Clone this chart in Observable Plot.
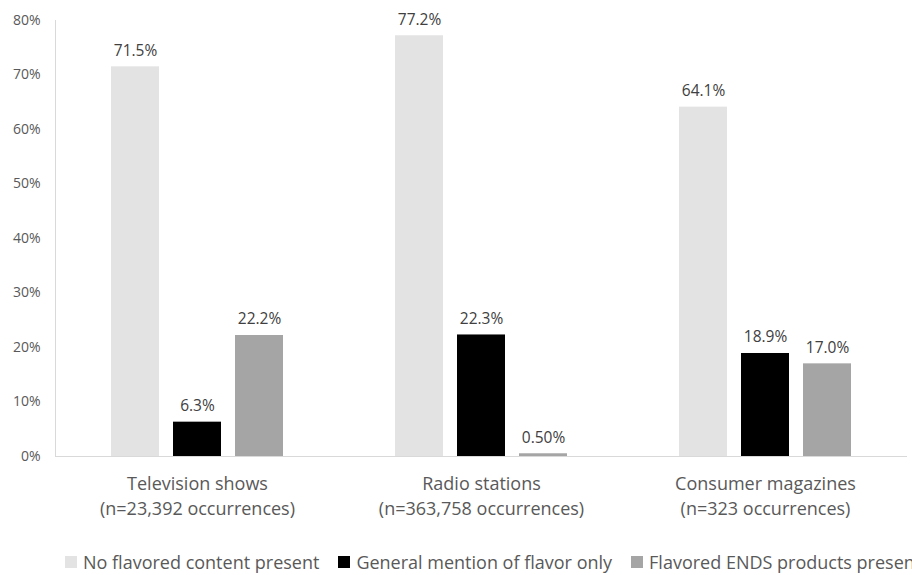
<!DOCTYPE html>
<html><head><meta charset="utf-8">
<script src="https://cdn.jsdelivr.net/npm/d3@7"></script>
<script src="https://cdn.jsdelivr.net/npm/@observablehq/plot@0.6"></script>
<style>
html,body{margin:0;padding:0;background:#fff;overflow:hidden;}
body{font-family:"Open Sans",sans-serif;width:912px;height:575px;}
#legend{height:45px;white-space:nowrap;overflow:hidden;display:flex;align-items:center;padding-left:65px;font-size:18px;color:#595959;box-sizing:border-box;padding-top:19px;}
.item{display:inline-flex;align-items:center;margin-right:19px;flex:none;}
.sw{width:12px;height:12px;margin-right:6px;display:inline-block;}
</style></head>
<body><div id="chart"></div><div id="legend"></div>
<script>
const categories = ["Television shows", "Radio stations", "Consumer magazines"];
const categoryLabels = ["Television shows\n(n=23,392 occurrences)", "Radio stations\n(n=363,758 occurrences)", "Consumer magazines\n(n=323 occurrences)"];
const series = ["No flavored content present", "General mention of flavor only", "Flavored ENDS products present"];
const noFlavor = [71.5, 77.2, 64.1];
const generalMention = [6.3, 22.3, 18.9];
const flavoredEnds = [22.2, 0.5, 17.0];
const noFlavorLabels = ["71.5%", "77.2%", "64.1%"];
const generalMentionLabels = ["6.3%", "22.3%", "18.9%"];
const flavoredEndsLabels = ["22.2%", "0.50%", "17.0%"];
const yTicks = [0, 10, 20, 30, 40, 50, 60, 70, 80];
const colors = ["#e3e3e3", "#000000", "#a5a5a5"];

const seriesValues = [noFlavor, generalMention, flavoredEnds];
const seriesLabels = [noFlavorLabels, generalMentionLabels, flavoredEndsLabels];
const data = [];
categories.forEach((c, i) => series.forEach((s, j) => data.push({category: c, series: s, value: seriesValues[j][i], label: seriesLabels[j][i]})));

const chart = Plot.plot({
  width: 912, height: 530,
  marginLeft: 54, marginRight: 5, marginTop: 20, marginBottom: 74,
  style: {fontFamily: "'Open Sans', sans-serif", background: "white", overflow: "visible"},
  fx: {domain: categories, padding: 0, label: null, axis: null},
  x: {domain: series, paddingInner: 0.222, paddingOuter: 0.867, axis: null},
  y: {domain: [0, 80], axis: null},
  color: {domain: series, range: colors},
  marks: [
    Plot.frame({anchor: "left", stroke: "#d9d9d9", fx: () => categories[0]}),
    Plot.axisY({ticks: yTicks, tickFormat: d => d + "%", tickSize: 0, tickPadding: 15, fontSize: 14, fill: "#595959", label: null}),
    Plot.axisFx({anchor: "bottom", tickFormat: d => categoryLabels[categories.indexOf(d)], tickSize: 0, tickPadding: 16, fontSize: 18, lineHeight: 1.39, fill: "#595959", label: null}),
    Plot.ruleY([0], {stroke: "#d9d9d9"}),
    Plot.barY(data, {fx: "category", x: "series", y: "value", fill: "series"}),
    Plot.text(data, {fx: "category", x: "series", y: "value", text: "label", dy: -16, fontSize: 15.5, fill: "#404040"})
  ]
});
document.getElementById("chart").appendChild(chart);

const legend = document.getElementById("legend");
series.forEach((s, j) => {
  const it = document.createElement("span");
  it.className = "item";
  const sw = document.createElement("span");
  sw.className = "sw";
  sw.style.background = colors[j];
  it.appendChild(sw);
  it.appendChild(document.createTextNode(s));
  legend.appendChild(it);
});
</script>
</body></html>
